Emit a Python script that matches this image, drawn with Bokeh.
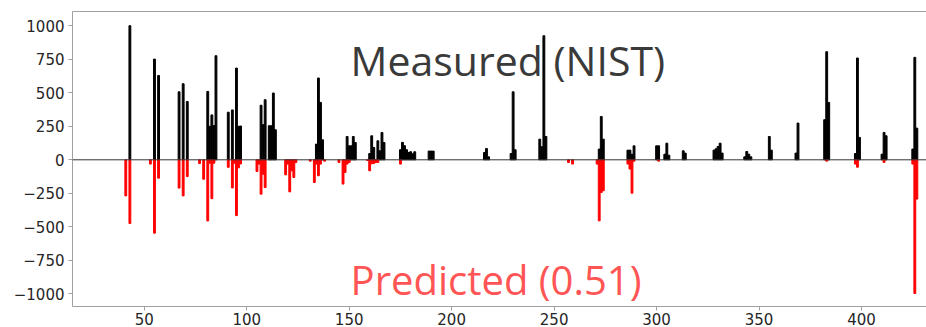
from bokeh.plotting import figure
from bokeh.models import Range1d, FixedTicker, LinearAxis, Span, Label
from bokeh.embed import file_html
from bokeh.resources import INLINE

# Measured (NIST) spectrum: m/z and relative intensity
meas_mz = [43, 55, 57, 67, 69, 71, 81, 82, 83, 84, 85, 91, 93, 95, 96, 97,
           107, 108, 109, 111, 112, 113, 114, 134, 135, 136, 137,
           149, 150, 151, 152, 153, 160, 161, 162, 164, 165, 166, 167,
           175, 176, 177, 178, 179, 180, 181, 182, 189, 190, 191,
           216, 217, 218, 229, 230, 231, 243, 244, 245, 246,
           272, 273, 274, 286, 287, 288, 289, 300, 301, 304, 305, 306,
           313, 314, 328, 329, 330, 331, 332, 343, 344, 345, 346, 355, 356,
           368, 369, 382, 383, 384, 397, 398, 399, 410, 411, 412, 425, 426, 427]
meas_int = [1000, 751, 629, 507, 567, 435, 510, 250, 335, 255, 776, 355, 372, 684, 250, 252,
            407, 262, 448, 254, 254, 498, 224, 117, 610, 428, 149,
            174, 104, 104, 174, 129, 47, 179, 92, 142, 67, 204, 129,
            75, 130, 105, 75, 55, 60, 45, 60, 65, 65, 65,
            55, 84, 22, 47, 507, 75, 154, 97, 925, 174,
            80, 323, 154, 72, 72, 42, 104, 104, 104, 42, 124, 34,
            67, 50, 72, 82, 99, 124, 50, 22, 62, 42, 22, 174, 72,
            50, 274, 299, 806, 428, 47, 759, 167, 42, 204, 179, 80, 764, 236]

# Predicted spectrum (mirrored, negative)
pred_mz = [41, 43, 53, 55, 57, 67, 69, 71, 77, 79, 81, 82, 83, 84, 91, 93, 94, 95, 96, 97,
           105, 106, 107, 108, 109, 119, 120, 121, 122, 123, 124, 131, 133, 134, 135, 136, 138,
           145, 147, 148, 149, 150, 159, 160, 161, 162, 163, 164, 175, 257, 259,
           271, 272, 273, 274, 286, 287, 288, 289, 301, 383, 397, 398, 411, 425, 426, 427]
pred_int = [-269, -475, -32, -547, -137, -211, -269, -125, -28, -145, -456, -25, -290, -25,
            -56, -210, -25, -416, -60, -31,
            -87, -32, -256, -107, -207, -112, -32, -239, -82, -132, -20, -10, -169, -32, -119, -32, -10,
            -20, -181, -94, -32, -20, -5, -82, -30, -28, -20, -20, -32, -20, -32,
            -32, -455, -244, -231, -32, -69, -249, -10, -10, -10, -32, -55, -20, -32, -997, -293]

x_ticks = [50, 100, 150, 200, 250, 300, 350, 400]
y_ticks = [-1000, -750, -500, -250, 0, 250, 500, 750, 1000]
y_tick_labels = ["\u22121000", "\u2212750", "\u2212500", "\u2212250", "0", "250", "500", "750", "1000"]

p = figure(width=926, height=327, x_range=Range1d(15.0, 431.7), y_range=Range1d(-1094, 1106),
           output_backend="svg", toolbar_location=None,
           min_border_left=72, min_border_right=0, min_border_top=11, min_border_bottom=21)
p.grid.visible = False
p.outline_line_color = None
p.background_fill_color = "white"
p.border_fill_color = "white"

spine = "#a0a0a0"
for ax in (p.xaxis[0], p.yaxis[0]):
    ax.axis_line_color = spine
    ax.major_tick_line_color = spine
    ax.minor_tick_line_color = None
    ax.major_tick_out = 4
    ax.major_tick_in = 0
    ax.major_label_text_font = "DejaVu Sans"
    ax.major_label_text_font_size = "15px"
    ax.major_label_text_color = "#262626"

p.xaxis[0].ticker = FixedTicker(ticks=x_ticks)
p.xaxis[0].major_label_standoff = 2
p.yaxis[0].ticker = FixedTicker(ticks=y_ticks)
p.yaxis[0].major_label_overrides = {t: l for t, l in zip(y_ticks, y_tick_labels)}
p.yaxis[0].major_label_standoff = 4

top_axis = LinearAxis(ticker=FixedTicker(ticks=[]), axis_line_color=spine,
                      major_tick_line_color=None, minor_tick_line_color=None,
                      major_label_text_font_size="0px")
p.add_layout(top_axis, "above")

p.vbar(x=meas_mz, top=meas_int, bottom=0, width=0.9, color="black")
p.vbar(x=pred_mz, top=0, bottom=pred_int, width=0.9, color="red")

p.add_layout(Span(location=0, dimension="width", line_color="#333333", line_width=1))

p.add_layout(Label(x=150.7, y=744, text="Measured (NIST)", text_font="Open Sans",
                   text_font_size="41px", text_color="#3a3a3a", text_baseline="alphabetic"))
p.add_layout(Label(x=150.7, y=-896, text="Predicted (0.51)", text_font="Open Sans",
                   text_font_size="40px", text_color="#ff5555", text_baseline="alphabetic"))

open("out.html", "w").write(file_html(p, INLINE))
